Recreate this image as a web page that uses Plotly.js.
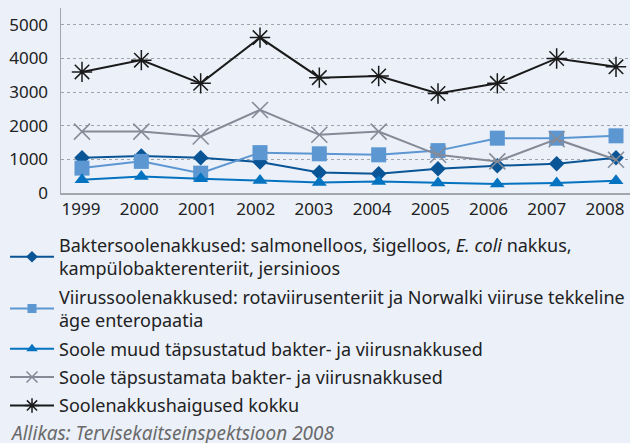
<!DOCTYPE html>
<html>
<head>
<meta charset="utf-8">
<script src="https://cdn.plot.ly/plotly-3.0.1.min.js"></script>
<style>html,body{margin:0;padding:0;background:#ebf0f9;}#chart{width:630px;height:443px;}</style>
</head>
<body>
<div id="chart"></div>
<script>
const years = [1999, 2000, 2001, 2002, 2003, 2004, 2005, 2006, 2007, 2008];
const bakter = [1050, 1100, 1050, 920, 610, 570, 720, 810, 870, 1050];
const viirus = [740, 940, 590, 1200, 1165, 1135, 1260, 1630, 1630, 1700];
const muud = [395, 490, 425, 375, 315, 345, 300, 270, 300, 365];
const tapsustamata = [1825, 1825, 1680, 2470, 1730, 1825, 1135, 940, 1600, 990];
const kokku = [3600, 3950, 3260, 4620, 3430, 3480, 2960, 3260, 4000, 3750];
const yTicks = [0, 1000, 2000, 3000, 4000, 5000];

const names = [
  'Baktersoolenakkused: salmonelloos, šigelloos, <i>E. coli</i> nakkus,<br>kampülobakterenteriit, jersinioos',
  'Viirussoolenakkused: rotaviirusenteriit ja Norwalki viiruse tekkeline<br>äge enteropaatia',
  'Soole muud täpsustatud bakter- ja viirusnakkused',
  'Soole täpsustamata bakter- ja viirusnakkused',
  'Soolenakkushaigused kokku'
];
const series = [bakter, viirus, muud, tapsustamata, kokku];
const colors = ['#0a5596', '#5c97d2', '#0573c0', '#858a97', '#1a1a1a'];
const symbols = ['diamond', 'square', 'triangle-up', 'x-thin-open', 'asterisk-open'];
const sizes = [12, 15, 13, 16, 17];
const legSizes = [9, 9, 10, 11, 12];

const traces = [];
series.forEach((s, i) => {
  traces.push({
    x: years, y: s, type: 'scatter', mode: 'lines+markers',
    showlegend: false,
    line: {color: colors[i], width: 2},
    marker: {symbol: symbols[i], size: sizes[i], color: colors[i], line: {color: colors[i], width: (i >= 3 ? 1.5 : 0)}}
  });
});
series.forEach((s, i) => {
  traces.push({
    x: [null], y: [null], type: 'scatter', mode: 'lines+markers',
    name: names[i], legendgroup: 'g' + i,
    line: {color: colors[i], width: 2},
    marker: {symbol: symbols[i], size: legSizes[i], color: colors[i], line: {color: colors[i], width: (i >= 3 ? 1.5 : 0)}}
  });
});

// tick labels in the reference are spaced slightly tighter than the points
const tickPos = years.map(y => 1998.983 + (y - 1999) * 0.9813);

const layout = {
  width: 630, height: 443,
  paper_bgcolor: '#ebf0f9', plot_bgcolor: '#ebf0f9',
  margin: {l: 61, r: 0, t: 8, b: 250},
  font: {family: 'Noto Sans, Liberation Sans, Arial, sans-serif', size: 17, color: '#222'},
  showlegend: true,
  xaxis: {
    range: [1998.646, 2008.236], tickvals: tickPos, ticktext: years.map(String),
    showgrid: false, zeroline: false, showline: true, linecolor: '#a3a6ad', linewidth: 1.5,
    ticks: '', tickfont: {size: 17, color: '#222'}, fixedrange: true
  },
  yaxis: {
    range: [0, 5500], tickvals: yTicks,
    showgrid: true, gridcolor: '#a0a4ab', griddash: 'dot', gridwidth: 1,
    zeroline: false, showline: true, linecolor: '#a3a6ad', linewidth: 1.5,
    ticks: '', ticklabelstandoff: 8, tickfont: {size: 17, color: '#222'}, fixedrange: true
  },
  legend: {
    x: -0.0931, y: -0.183, xanchor: 'left', yanchor: 'top', xref: 'paper', yref: 'paper',
    bgcolor: 'rgba(0,0,0,0)', font: {size: 18, color: '#222'},
    traceorder: 'grouped', tracegroupgap: 2, itemwidth: 44, valign: 'middle'
  },
  annotations: [{
    text: '<i>Allikas: Tervisekaitseinspektsioon 2008</i>',
    xref: 'paper', yref: 'paper', x: -0.0931, y: -1.3, xanchor: 'left', yanchor: 'middle',
    showarrow: false, font: {size: 19, color: '#6a6a6a'}
  }]
};

Plotly.newPlot('chart', traces, layout, {displayModeBar: false, staticPlot: true});
</script>
</body>
</html>
